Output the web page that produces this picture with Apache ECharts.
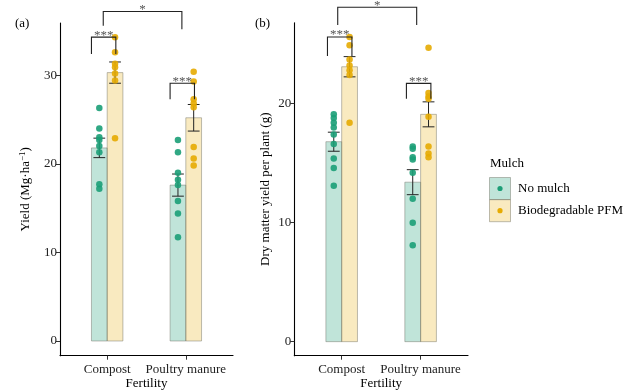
<!DOCTYPE html>
<html><head><meta charset="utf-8">
<script src="https://cdn.jsdelivr.net/npm/echarts@6/dist/echarts.min.js"></script>
<style>html,body{margin:0;padding:0;background:#fff}#c{width:640px;height:392px}</style>
</head><body><div id="c"></div>
<script>
// ---------- data ----------
const categories = ['Compost', 'Poultry manure'];
const groups = ['No mulch', 'Biodegradable PFM'];
const xTitle = 'Fertility';
const legendTitle = 'Mulch';
const panelLabels = ['(a)', '(b)'];

// Panel (a) Yield (Mg·ha-1)
const aMeanNoMulch = [21.8, 17.6];
const aMeanPFM = [30.3, 25.2];
const aSeNoMulch = [1.1, 1.25];
const aSePFM = [1.2, 1.5];
const aPtsNoMulchCompost = [26.3, 24.0, 23.0, 22.7, 22.0, 21.3, 17.7, 17.2];
const aPtsPFMCompost = [34.3, 32.6, 31.3, 30.9, 30.2, 29.4, 22.9];
const aPtsNoMulchPoultry = [22.7, 21.3, 19.0, 18.2, 17.6, 15.8, 14.4, 11.7];
const aPtsPFMPoultry = [30.4, 29.3, 27.3, 26.8, 26.4, 21.9, 20.6, 19.8];
const aTicks = [0, 10, 20, 30];
const aSigY = [34.3, 29.1];       // within-fertility bracket heights
const aSigLeg = [32.4, 27.3];
const aSigLabels = ['***', '***'];
const aCrossY = 37.2, aCrossLeg = [35.6, 35.2], aCrossLabel = '*';

// Panel (b) Dry matter yield per plant (g)
const bMeanNoMulch = [16.8, 13.4];
const bMeanPFM = [23.1, 19.1];
const bSeNoMulch = [0.8, 1.05];
const bSePFM = [0.85, 1.05];
const bPtsNoMulchCompost = [19.1, 18.8, 18.4, 18.0, 17.4, 16.6, 15.4, 14.6, 13.1];
const bPtsPFMCompost = [25.6, 24.9, 23.7, 23.2, 22.8, 22.4, 18.4];
const bPtsNoMulchPoultry = [16.4, 16.2, 15.5, 15.3, 14.2, 12.0, 10.0, 8.1];
const bPtsPFMPoultry = [24.7, 20.9, 20.6, 20.4, 18.9, 16.4, 15.8, 15.5];
const bTicks = [0, 10, 20];
const bSigY = [25.6, 21.7];
const bSigLeg = [24.0, 20.4];
const bSigLabels = ['***', '***'];
const bCrossY = 28.1, bCrossLeg = [26.6, 26.6], bCrossLabel = '*';

// ---------- styles ----------
const FONT = '"Liberation Serif", "Times New Roman", serif';
const ptColors = ['#1b9e77', '#e6ab02'];
const barFills = ['rgba(27,158,119,0.28)', 'rgba(230,171,2,0.25)'];
const barStroke = 'rgba(110,110,100,0.45)';
const dodge = [-0.1, 0.1];
const halfBar = 0.1;

function starText(txt, x, y) {
  return { type: 'text', style: { text: txt, x: x, y: y - 2,
    align: 'center', verticalAlign: 'middle', textAlign: 'center', textVerticalAlign: 'middle',
    font: '13px ' + FONT, fill: '#555' } };
}

function panelSeries(gi, means, ses, pts, sigY, sigLeg, sigLabels, crossY, crossLeg, crossLabel, sigOff) {
  const s = [];
  // bars
  means.forEach((m, g) => {
    s.push({
      type: 'custom', xAxisIndex: gi, yAxisIndex: gi, z: 2,
      data: m.map((v, i) => [i, v]),
      renderItem: (p, api) => {
        const x = api.value(0) + dodge[g];
        const a = api.coord([x - halfBar, api.value(1)]);
        const b = api.coord([x + halfBar, 0]);
        return { type: 'rect', shape: { x: a[0], y: a[1], width: b[0] - a[0], height: b[1] - a[1] },
          style: { fill: barFills[g], stroke: barStroke, lineWidth: 1 } };
      }
    });
  });
  // error bars
  means.forEach((m, g) => {
    s.push({
      type: 'custom', xAxisIndex: gi, yAxisIndex: gi, z: 3,
      data: m.map((v, i) => [i, v, ses[g][i]]),
      renderItem: (p, api) => {
        const x = api.value(0) + dodge[g];
        const lo = api.value(1) - api.value(2), hi = api.value(1) + api.value(2);
        const t = api.coord([x, hi]), bt = api.coord([x, lo]);
        const l = api.coord([x - 0.075, hi])[0], r = api.coord([x + 0.075, hi])[0];
        const st = { stroke: '#222', lineWidth: 1, fill: null };
        return { type: 'group', children: [
          { type: 'line', shape: { x1: t[0], y1: t[1], x2: bt[0], y2: bt[1] }, style: st },
          { type: 'line', shape: { x1: l, y1: t[1], x2: r, y2: t[1] }, style: st },
          { type: 'line', shape: { x1: l, y1: bt[1], x2: r, y2: bt[1] }, style: st }
        ] };
      }
    });
  });
  // points
  pts.forEach((arrByCat, g) => {
    const data = [];
    arrByCat.forEach((arr, i) => arr.forEach(v => data.push([i + dodge[g], v])));
    s.push({ type: 'scatter', name: groups[g], xAxisIndex: gi, yAxisIndex: gi, z: 4,
      symbolSize: 6.5, itemStyle: { color: ptColors[g], opacity: 0.9 }, data });
  });
  // within-category brackets
  s.push({
    type: 'custom', xAxisIndex: gi, yAxisIndex: gi, z: 5, clip: false,
    data: sigY.map((y, i) => [i, y, sigLeg[i]]),
    renderItem: (p, api) => {
      const i = api.value(0);
      const a = api.coord([i + sigOff[0], api.value(1)]);
      const b = api.coord([i + sigOff[1], api.value(2)]);
      const st = { stroke: '#222', lineWidth: 1.1, fill: null };
      return { type: 'group', children: [
        { type: 'polyline', shape: { points: [[a[0], b[1]], [a[0], a[1]], [b[0], a[1]], [b[0], b[1]]] }, style: st },
        starText(sigLabels[p.dataIndex], (a[0] + b[0]) / 2, a[1])
      ] };
    }
  });
  // cross-category bracket
  s.push({
    type: 'custom', xAxisIndex: gi, yAxisIndex: gi, z: 5, clip: false,
    data: [[crossY, crossLeg[0], crossLeg[1]]],
    renderItem: (p, api) => {
      const l = api.coord([-0.05, api.value(0)]);
      const r = api.coord([0.95, api.value(0)]);
      const ly = api.coord([0, api.value(1)])[1], ry = api.coord([0, api.value(2)])[1];
      const st = { stroke: '#222', lineWidth: 1.1, fill: null };
      return { type: 'group', children: [
        { type: 'polyline', shape: { points: [[l[0], ly], [l[0], l[1]], [r[0], r[1]], [r[0], ry]] }, style: st },
        starText(crossLabel, (l[0] + r[0]) / 2, l[1])
      ] };
    }
  });
  return s;
}

function xAxisCfg(gi) {
  return {
    type: 'value', gridIndex: gi, min: -0.6, max: 1.6,
    splitLine: { show: false },
    axisLine: { show: true, onZero: false, lineStyle: { color: '#000', width: 1.1 } },
    axisTick: { show: true, length: 4, customValues: [0, 1], lineStyle: { color: '#333' } },
    axisLabel: { show: true, customValues: [0, 1], margin: 7, color: '#222', fontFamily: FONT, fontSize: 13,
      formatter: v => categories[Math.round(v)] },
    name: xTitle, nameLocation: 'middle', nameGap: 21, nameMoveOverlap: false,
    nameTextStyle: { fontFamily: FONT, fontSize: 13, color: '#000' }
  };
}
function yAxisCfg(gi, min, max, ticks, name, gap, rich) {
  return {
    type: 'value', gridIndex: gi, min, max,
    splitLine: { show: false },
    axisLine: { show: true, onZero: false, lineStyle: { color: '#000', width: 1.1 } },
    axisTick: { show: true, length: 4, customValues: ticks, lineStyle: { color: '#333' } },
    axisLabel: { show: true, customValues: ticks, margin: 3, color: '#222', fontFamily: FONT, fontSize: 13 },
    name, nameLocation: 'middle', nameGap: gap, nameRotate: 90, nameMoveOverlap: false,
    nameTextStyle: { fontFamily: FONT, fontSize: 13, color: '#000', rich }
  };
}

const chart = echarts.init(document.getElementById('c'), null, { renderer: 'canvas' });
const supRich = {
  sup: { fontFamily: FONT, fontSize: 9, verticalAlign: 'top', padding: [0, 0, 6, 0], color: '#000' }
};
chart.setOption({
  animation: false,
  backgroundColor: '#fff',
  grid: [
    { left: 60, top: 23, width: 173, height: 332.7, outerBoundsMode: 'none', containLabel: false },
    { left: 294.3, top: 22.7, width: 173.7, height: 333, outerBoundsMode: 'none', containLabel: false }
  ],
  xAxis: [xAxisCfg(0), xAxisCfg(1)],
  yAxis: [
    yAxisCfg(0, -1.66, 35.9, aTicks, 'Yield (Mg·ha{sup|−1})', 27, supRich),
    yAxisCfg(1, -1.18, 26.8, bTicks, 'Dry matter yield per plant (g)', 22, {})
  ],
  series: [
    ...panelSeries(0, [aMeanNoMulch, aMeanPFM], [aSeNoMulch, aSePFM],
      [[aPtsNoMulchCompost, aPtsNoMulchPoultry], [aPtsPFMCompost, aPtsPFMPoultry]],
      aSigY, aSigLeg, aSigLabels, aCrossY, aCrossLeg, aCrossLabel, [-0.2, 0.11]),
    ...panelSeries(1, [bMeanNoMulch, bMeanPFM], [bSeNoMulch, bSePFM],
      [[bPtsNoMulchCompost, bPtsNoMulchPoultry], [bPtsPFMCompost, bPtsPFMPoultry]],
      bSigY, bSigLeg, bSigLabels, bCrossY, bCrossLeg, bCrossLabel, [-0.18, 0.13])
  ],
  graphic: [
    { type: 'text', left: 15, top: 17, style: { text: panelLabels[0], font: '13px ' + FONT, fill: '#000' } },
    { type: 'text', left: 255, top: 17, style: { text: panelLabels[1], font: '13px ' + FONT, fill: '#000' } },
    { type: 'text', left: 490, top: 157, style: { text: legendTitle, font: '13px ' + FONT, fill: '#000' } },
    ...groups.flatMap((g, k) => {
      const y0 = 177.5 + k * 22.2;
      return [
        { type: 'rect', shape: { x: 489.5, y: y0, width: 21, height: 22 },
          style: { fill: barFills[k], stroke: barStroke, lineWidth: 1 } },
        { type: 'circle', shape: { cx: 500, cy: y0 + 11, r: 2.6 }, style: { fill: ptColors[k] } },
        { type: 'text', x: 518, y: y0 + 11, style: { text: g, font: '13px ' + FONT, fill: '#000',
          verticalAlign: 'middle', textVerticalAlign: 'middle' } }
      ];
    })
  ]
});
</script></body></html>
